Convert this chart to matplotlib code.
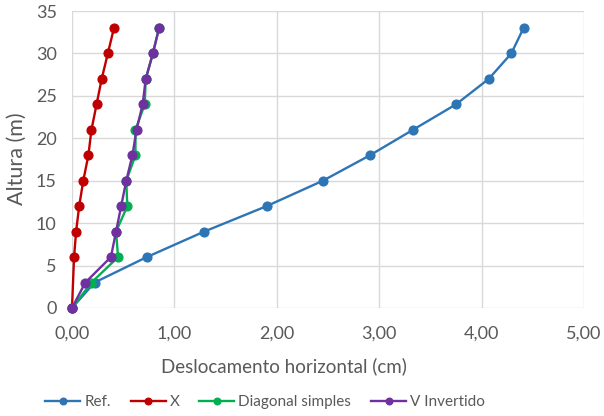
import matplotlib.pyplot as plt
from matplotlib.ticker import FuncFormatter

# alturas dos pavimentos (m)
altura = [0, 3, 6, 9, 12, 15, 18, 21, 24, 27, 30, 33]

# deslocamentos horizontais (cm)
desl_ref = [0.00, 0.22, 0.73, 1.29, 1.90, 2.45, 2.91, 3.33, 3.75, 4.07, 4.29, 4.41]
desl_x = [0.00, 0.01, 0.02, 0.04, 0.07, 0.11, 0.16, 0.19, 0.24, 0.29, 0.35, 0.41]
desl_diag = [0.00, 0.19, 0.45, 0.43, 0.54, 0.53, 0.62, 0.62, 0.71, 0.72, 0.79, 0.85]
desl_v = [0.00, 0.13, 0.38, 0.43, 0.48, 0.53, 0.59, 0.63, 0.69, 0.72, 0.79, 0.85]

series = [
    ("Ref.", desl_ref, "#2E75B6"),
    ("X", desl_x, "#C00000"),
    ("Diagonal simples", desl_diag, "#00B050"),
    ("V Invertido", desl_v, "#7030A0"),
]

plt.rcParams['font.family'] = ['Lato', 'DejaVu Sans']
cinza = "#595959"

fig = plt.figure(figsize=(6.04, 4.16), dpi=100)
ax = fig.add_axes([72 / 604, 1 - 308 / 416, 512 / 604, 297 / 416])

for nome, desl, cor in series:
    # no X o ponto do 1o pavimento aparece sem marcador
    marks = [i for i in range(len(altura)) if not (nome == "X" and i == 1)]
    ax.plot(desl, altura, color=cor, lw=1.7, marker='o', ms=6.3,
            markevery=marks, label=nome, clip_on=False)

ax.set_xlim(0, 5)
ax.set_ylim(0, 35)
ax.set_xticks([0, 1, 2, 3, 4, 5])
ax.set_yticks(range(0, 36, 5))
ax.xaxis.set_major_formatter(FuncFormatter(lambda v, p: f"{v:.2f}".replace('.', ',')))
ax.grid(True, color="#D9D9D9", lw=1)
ax.set_axisbelow(True)
for s in ax.spines.values():
    s.set_visible(False)
ax.tick_params(length=0, labelsize=13, colors=cinza)
ax.tick_params(axis='x', pad=13)
ax.tick_params(axis='y', pad=11)

# titulos dos eixos
fig.text(284 / 604, 1 - 366 / 416, "Deslocamento horizontal (cm)", fontsize=13.5,
         color=cinza, ha='center', va='center')
fig.text(17 / 604, 1 - 159 / 416, "Altura (m)", fontsize=15.5, color=cinza,
         rotation=90, ha='center', va='center')

fig.legend(loc='center', bbox_to_anchor=(265 / 604, 14 / 416), ncol=4, frameon=False,
           fontsize=11, labelcolor=cinza, handlelength=2.3, handletextpad=0.25,
           columnspacing=1.3, markerscale=0.75)

fig.savefig("out.png", dpi=100)
